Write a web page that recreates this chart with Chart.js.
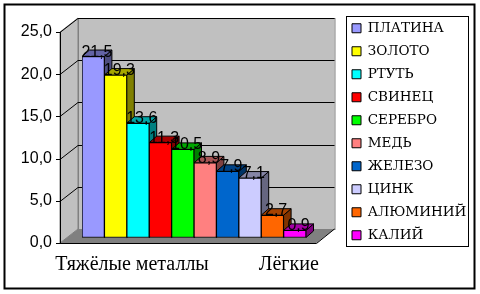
<!DOCTYPE html>
<html>
<head>
<meta charset="utf-8">
<script src="https://cdn.jsdelivr.net/npm/chart.js@4/dist/chart.umd.min.js"></script>
<style>
  html, body { margin: 0; padding: 0; background: #fff; }
  #wrap { width: 480px; height: 294px; }
</style>
</head>
<body>
<div id="wrap"><canvas id="c" width="480" height="294"></canvas></div>
<script>
// metals and density (g/cm3)
const metals    = ['ПЛАТИНА', 'ЗОЛОТО', 'РТУТЬ', 'СВИНЕЦ', 'СЕРЕБРО', 'МЕДЬ', 'ЖЕЛЕЗО', 'ЦИНК', 'АЛЮМИНИЙ', 'КАЛИЙ'];
const densities = [21.5, 19.3, 13.6, 11.3, 10.5, 8.9, 7.9, 7.1, 2.7, 0.9];
const colors    = ['#9999FF', '#FFFF00', '#00FFFF', '#FF0000', '#00FF00', '#FF8080', '#0066CC', '#CCCCFF', '#FF6600', '#FF00FF'];
// one slot per bar, group names under the axis
const xTickLabels = ['', '', 'Тяжёлые металлы', '', '', '', '', '', '', 'Лёгкие'];
const yTicks      = [0, 5, 10, 15, 20, 25];

const fmt = v => v.toFixed(1).replace('.', ',');

function shade(hex, k) {
  const n = parseInt(hex.slice(1), 16);
  const r = Math.round(((n >> 16) & 255) * k);
  const g = Math.round(((n >> 8) & 255) * k);
  const b = Math.round((n & 255) * k);
  return `rgb(${r},${g},${b})`;
}

// 3D look
const BAR_D   = { x: 7.5, y: -6.5 };  // bar depth
const FRONT   = { x: -6, y: 5 };      // front plane vs bar plane
const DEPTH   = { x: 18, y: -14 };    // box depth
const SIDE_L  = 16;                   // frame beyond bars, left
const SIDE_R  = 16.5;                 // frame beyond bars, right

const frame3d = {
  id: 'frame3d',
  beforeDatasetsDraw(chart) {
    const { ctx, chartArea: ca } = chart;
    const y = chart.scales.y;
    const fl = ca.left - SIDE_L + FRONT.x, fr = ca.right + SIDE_R + FRONT.x;
    const f0 = y.getPixelForValue(0) + FRONT.y, fTop = y.getPixelForValue(25) + FRONT.y;
    const bl = fl + DEPTH.x, br = fr + DEPTH.x;
    const b0 = f0 + DEPTH.y, bTop = fTop + DEPTH.y;

    ctx.save();
    // back wall
    ctx.fillStyle = '#c0c0c0';
    ctx.fillRect(bl, bTop, br - bl, b0 - bTop);
    ctx.strokeStyle = '#808080';
    ctx.lineWidth = 1;
    ctx.strokeRect(bl + 0.5, bTop + 0.5, br - bl, b0 - bTop);
    // left wall
    ctx.beginPath();
    ctx.moveTo(fl, fTop); ctx.lineTo(bl, bTop); ctx.lineTo(bl, b0); ctx.lineTo(fl, f0);
    ctx.closePath();
    ctx.fillStyle = '#c0c0c0';
    ctx.fill();
    ctx.stroke();
    // floor
    ctx.beginPath();
    ctx.moveTo(fl, f0); ctx.lineTo(bl, b0); ctx.lineTo(br, b0); ctx.lineTo(fr, f0);
    ctx.closePath();
    ctx.fillStyle = '#808080';
    ctx.fill();

    // grid lines on left and back walls
    ctx.strokeStyle = '#000';
    ctx.lineWidth = 1;
    yTicks.forEach(v => {
      if (v === 0) return;
      const py = Math.round(y.getPixelForValue(v) + FRONT.y) + 0.5;
      ctx.beginPath();
      ctx.moveTo(fl, py);
      ctx.lineTo(bl, py + DEPTH.y);
      ctx.lineTo(br, py + DEPTH.y);
      ctx.stroke();
      // tick mark on the front axis
      ctx.beginPath();
      ctx.moveTo(fl - 4, py); ctx.lineTo(fl, py);
      ctx.stroke();
    });
    // front axis + floor edges
    ctx.beginPath();
    ctx.moveTo(Math.round(fl) + 0.5, fTop);
    ctx.lineTo(Math.round(fl) + 0.5, f0);
    ctx.moveTo(fl - 4, Math.round(f0) + 0.5);
    ctx.lineTo(fr, Math.round(f0) + 0.5);
    ctx.lineTo(br, b0);
    ctx.stroke();

    // bar tops and sides, left to right
    chart.data.datasets.forEach((ds, di) => {
      chart.getDatasetMeta(di).data.forEach((bar, i) => {
        if (ds.data[i] == null) return;
        const { x, y: top, base, width } = bar.getProps(['x', 'y', 'base', 'width'], true);
        const l = x - width / 2, r = x + width / 2;
        ctx.strokeStyle = '#000';
        ctx.fillStyle = shade(colors[di], 0.5);
        ctx.beginPath();
        ctx.moveTo(r, top); ctx.lineTo(r + BAR_D.x, top + BAR_D.y);
        ctx.lineTo(r + BAR_D.x, base + BAR_D.y); ctx.lineTo(r, base);
        ctx.closePath(); ctx.fill(); ctx.stroke();
        ctx.fillStyle = shade(colors[di], 0.65);
        ctx.beginPath();
        ctx.moveTo(l, top); ctx.lineTo(l + BAR_D.x, top + BAR_D.y);
        ctx.lineTo(r + BAR_D.x, top + BAR_D.y); ctx.lineTo(r, top);
        ctx.closePath(); ctx.fill(); ctx.stroke();
      });
    });
    ctx.restore();
  },
  afterDatasetsDraw(chart) {
    const { ctx } = chart;
    ctx.save();
    ctx.font = '16px "Liberation Sans", Arial, sans-serif';
    ctx.fillStyle = '#000';
    ctx.textAlign = 'center';
    ctx.textBaseline = 'alphabetic';
    chart.data.datasets.forEach((ds, di) => {
      chart.getDatasetMeta(di).data.forEach((bar, i) => {
        if (ds.data[i] == null) return;
        ctx.fillText(fmt(ds.data[i]), bar.x + BAR_D.x / 2, bar.y);
      });
    });
    ctx.restore();
  },
  afterDraw(chart) {
    const { ctx, legend } = chart;
    ctx.save();
    ctx.strokeStyle = '#000';
    // legend frame
    const hb = legend.legendHitBoxes;
    if (hb && hb.length) {
      const first = hb[0], last = hb[hb.length - 1];
      ctx.lineWidth = 1;
      ctx.strokeRect(Math.round(first.left) - 5.5, Math.round(first.top) - 5.5, 122, Math.round(last.top + last.height - first.top) + 9);
    }
    // outer frame
    ctx.lineWidth = 2;
    ctx.strokeRect(4.5, 4.5, 470, 284);
    ctx.restore();
  }
};

const datasets = metals.map((name, i) => ({
  label: name,
  data: xTickLabels.map((_, j) => (j === i ? densities[i] : null)),
  backgroundColor: colors[i],
  borderColor: '#000',
  borderWidth: 1,
  borderSkipped: false,
  barPercentage: 1,
  categoryPercentage: 1,
}));

new Chart(document.getElementById('c'), {
  type: 'bar',
  data: { labels: xTickLabels, datasets },
  plugins: [frame3d],
  options: {
    responsive: false,
    animation: false,
    events: [],
    // negative left padding only widens the room the layout allows the legend
    layout: { padding: { left: -100, right: 7.5, top: 12, bottom: 0 } },
    plugins: {
      tooltip: { enabled: false },
      legend: {
        position: 'right',
        align: 'start',
        maxWidth: 130,
        labels: {
          boxWidth: 9,
          boxHeight: 9,
          padding: 9.5,
          color: '#000',
          font: { family: '"DejaVu Serif", serif', size: 13.5 },
        },
      },
    },
    scales: {
      x: {
        stacked: true,
        grid: { display: false },
        border: { display: false },
        ticks: {
          autoSkip: false,
          maxRotation: 0,
          minRotation: 0,
          padding: 7,
          labelOffset: -6,
          color: '#000',
          font: { family: '"Liberation Serif", "Times New Roman", serif', size: 20 },
        },
        afterFit: s => { s.height = 56; },
      },
      y: {
        stacked: true,
        min: 0,
        max: 25,
        // invisible tick marks only push the labels out to the front axis
        grid: { color: 'transparent', drawOnChartArea: false, tickLength: 13 },
        border: { display: false },
        ticks: {
          stepSize: 5,
          padding: 17,
          labelOffset: 5,
          color: '#000',
          font: { family: '"Liberation Sans", Arial, sans-serif', size: 16 },
          callback: v => fmt(v),
        },
        afterFit: s => { s.width = 182; },
      },
      // spacers: room above the plot and between plot and legend
      topGap: {
        type: 'category',
        position: 'top',
        grid: { display: false },
        border: { display: false },
        ticks: { display: false },
        afterFit: s => { s.height = 15; },
      },
      rightGap: {
        type: 'linear',
        position: 'right',
        display: false,
        afterFit: s => { s.width = 36.5; },
      },
    },
  },
});
</script>
</body>
</html>
